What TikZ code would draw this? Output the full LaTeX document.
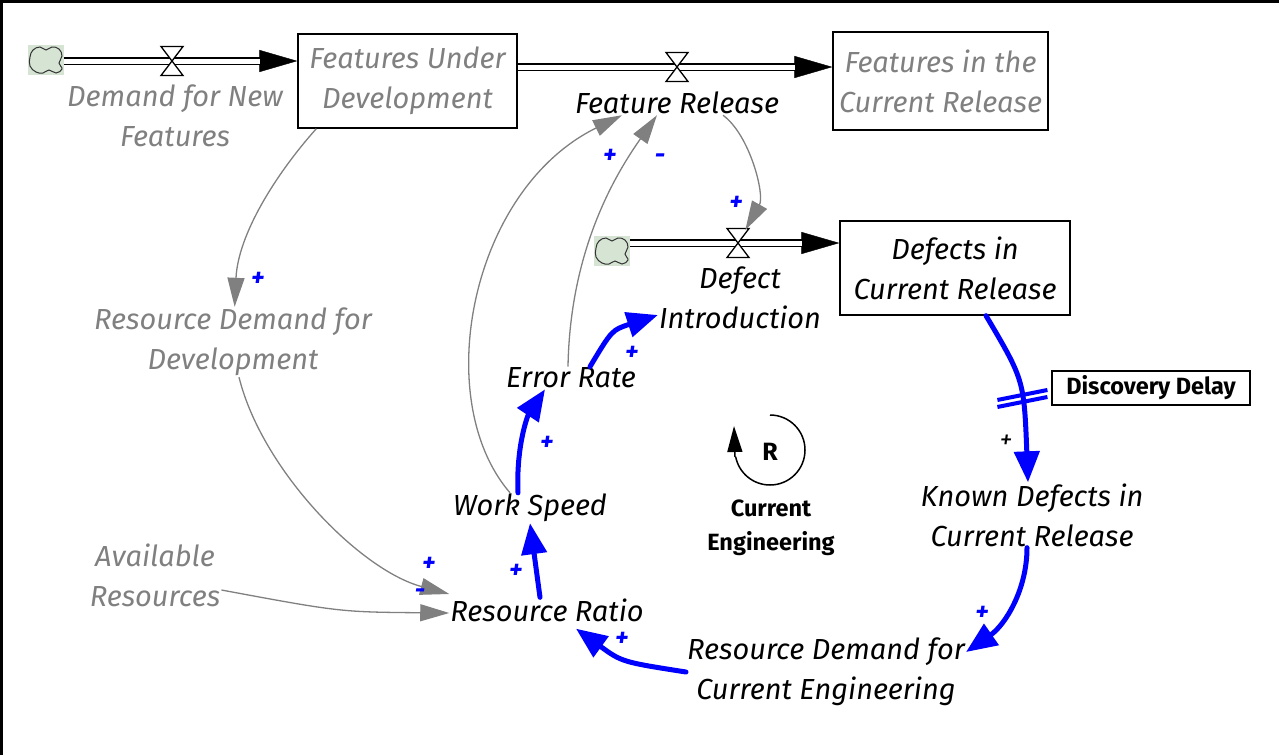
\documentclass[tikz,border=0pt]{standalone}
\usepackage{fontspec}
\setmainfont{Fira Sans}
\usetikzlibrary{arrows.meta,calc}
\tikzset{>=latex}
\definecolor{linkgrey}{RGB}{128,128,128}
\definecolor{cloudgreen}{RGB}{214,228,212}

% valve (hourglass) sitting on a pipe
\newcommand{\valveat}[1]{%
  \draw[valvepath] ($(#1)+(-11,-14.5)$) -- ($(#1)+(11,-14.5)$) -- ($(#1)+(-11,14.5)$) -- ($(#1)+(11,14.5)$) -- cycle;}
% cloud outline drawn over a cloud node
\newcommand{\cloudat}[1]{%
  \begin{scope}[shift={(#1)}]
    \draw[cloudline] plot[smooth cycle, tension=0.7] coordinates {(-16,-3) (-13,-10) (-6,-13) (0,-10) (6,-13) (13,-11) (16,-4) (13,3) (16,9) (10,13) (3,10) (-3,13) (-10,12) (-16,6)};
  \end{scope}}

\begin{document}
\begin{tikzpicture}[x=1pt, y=-1pt,
    var/.style={align=center, font=\fontsize{29}{40}\selectfont\itshape, inner sep=1pt},
    greyvar/.style={var, text=linkgrey},
    boldlabel/.style={align=center, font=\fontsize{23.5}{34}\selectfont\bfseries, inner sep=1pt},
    stock/.style={draw, line width=1.3pt, inner sep=0pt},
    cloudbox/.style={fill=cloudgreen, minimum width=36pt, minimum height=30pt, inner sep=0pt},
    cloudline/.style={draw=black!80, fill=cloudgreen, line width=1pt},
    pipe/.style={draw, double, double distance=5pt, line width=1.6pt},
    flowhead/.style={draw, line width=0.4pt, -{Triangle[length=38pt,width=22pt]}},
    valvepath/.style={draw, fill=white, line width=1.3pt},
    link/.style={draw=linkgrey, line width=1.3pt, -{Triangle[length=29pt,width=17pt]}},
    bluelink/.style={draw=blue, line width=5pt, line cap=round, -{Triangle[length=31pt,width=25pt]}},
    pol/.style={text=blue, font=\fontsize{26}{26}\selectfont\bfseries\itshape, inner sep=0pt}]

    \useasboundingbox (0,0) rectangle (1279,755);
    \draw[line width=3pt] (1.5,755) -- (1.5,1.5) -- (1279,1.5);

    % stocks
    \node[stock, greyvar, minimum width=219pt, minimum height=94pt] (fud) at (407.5,81) {Features Under\\Development};
    \node[stock, greyvar, minimum width=215pt, minimum height=98pt] (fcr) at (940.5,81) {Features in the\\Current Release};
    \node[stock, var, minimum width=230pt, minimum height=94pt] (dcr) at (955,268) {Defects in\\Current Release};

    % clouds
    \node[cloudbox] (cloudA) at (46,60) {};
    \node[cloudbox] (cloudB) at (612,251) {};
    \cloudat{cloudA}
    \cloudat{cloudB}

    % valves
    \coordinate (vA) at (172,61);
    \coordinate (vB) at (677,67);
    \coordinate (vC) at (738,243);

    % flows
    \draw[flowhead] (cloudA.east |- vA) -- (fud.west |- vA);
    \draw[pipe, shorten >=37pt] (cloudA.east |- vA) -- (fud.west |- vA);
    \valveat{vA}
    \draw[flowhead] (fud.east |- vB) -- (fcr.west |- vB);
    \draw[pipe, shorten >=37pt] (fud.east |- vB) -- (fcr.west |- vB);
    \valveat{vB}
    \draw[flowhead] (cloudB.east |- vC) -- (dcr.west |- vC);
    \draw[pipe, shorten >=37pt] (cloudB.east |- vC) -- (dcr.west |- vC);
    \valveat{vC}

    % variables
    \node[greyvar] (demandnew) at (175,116) {Demand for New\\Features};
    \node[var] (featrel) at (677,103) {Feature Release};
    \node[var] (defintro) at (740,298) {Defect\\Introduction};
    \node[greyvar] (rddev) at (233,342) {Resource Demand for\\Development};
    \node[greyvar] (avail) at (155,575) {Available\\Resources};
    \node[var] (ratio) at (547,610) {Resource Ratio};
    \node[var] (speed) at (530,508) {Work Speed};
    \node[var] (errrate) at (571,378) {Error Rate};
    \node[var] (known) at (1032,515) {Known Defects in\\Current Release};
    \node[var] (rdce) at (826,672) {Resource Demand for\\Current Engineering};
    \node[draw, line width=1.3pt, boldlabel, minimum width=198pt, minimum height=34pt] (delay) at (1151,388) {Discovery Delay};

    % grey links
    \draw[link] ([xshift=19pt]fud.south west) .. controls (275,175) and (238,235) .. (rddev);
    \draw[link] ([xshift=6pt]rddev.south) .. controls (262,470) and (360,570) .. ([yshift=16pt]ratio.west);
    \draw[link] ([yshift=-15pt]avail.east) .. controls (340,612) .. ([yshift=-3pt]ratio.west);
    \draw[link] ([xshift=-20pt]speed.north) .. controls (430,400) and (470,190) .. ([xshift=-55pt]featrel.south);
    \draw[link] ([xshift=-3pt]errrate.north) .. controls (570,250) and (615,175) .. ([xshift=-20pt]featrel.south);
    \draw[link, shorten >=15pt] ([xshift=46pt]featrel.south) .. controls (750,135) and (765,195) .. (vC);

    % loop links
    \draw[bluelink] ([xshift=31pt]dcr.south) .. controls (1024,380) .. ([xshift=-4pt]known.north) coordinate[pos=0.6] (dmark);
    \draw[draw=blue, line width=4pt] ($(dmark)+(-25,2)$) -- ($(dmark)+(25,-8)$);
    \draw[draw=blue, line width=4pt] ($(dmark)+(-25,9)$) -- ($(dmark)+(25,-1)$);
    \draw[bluelink] ([xshift=-5pt]known.south) .. controls (1027,590) and (1005,625) .. ([yshift=20pt]rdce.east);
    \draw[bluelink] (rdce.west) .. controls (622,662) .. ([xshift=29pt,yshift=-6pt]ratio.south);
    \draw[bluelink] ([xshift=-7pt]ratio.north) -- (speed.south);
    \draw[bluelink] ([xshift=-12pt]speed.north) .. controls (516,445) and (528,415) .. ([xshift=-26pt]errrate.south);
    \draw[bluelink] ([xshift=19pt]errrate.north) .. controls (612,330) .. ([yshift=-17pt]defintro.west);

    % polarities
    \foreach \px/\py/\sgn [count=\i] in {258/279/+, 429/564/+, 420/594/-, 516/571/+, 547/443/+, 632/353/+, 622/639/+, 982/613/+, 610/156/+, 660/159/-, 736/203/+}
        \node[pol] (pol\i) at (\px,\py) {\sgn};
    \node[pol, text=black, font=\fontsize{26}{26}\selectfont\itshape] (delaysign) at (1006,442) {+};

    % loop marker
    \coordinate (loopc) at (770,450);
    \draw[line width=1.5pt] (loopc) ++(0,-35) arc[start angle=-90, end angle=169, radius=35];
    \draw[line width=1.5pt, -{Triangle[length=26pt,width=15pt]}] ($(loopc)+(-35,7)$) -- ($(loopc)+(-36,-24)$);
    \node[boldlabel, font=\fontsize{25}{25}\selectfont\bfseries] (loopR) at (770,452) {R};
    \node[boldlabel] (loopname) at (771,528) {Current\\Engineering};
\end{tikzpicture}
\end{document}
